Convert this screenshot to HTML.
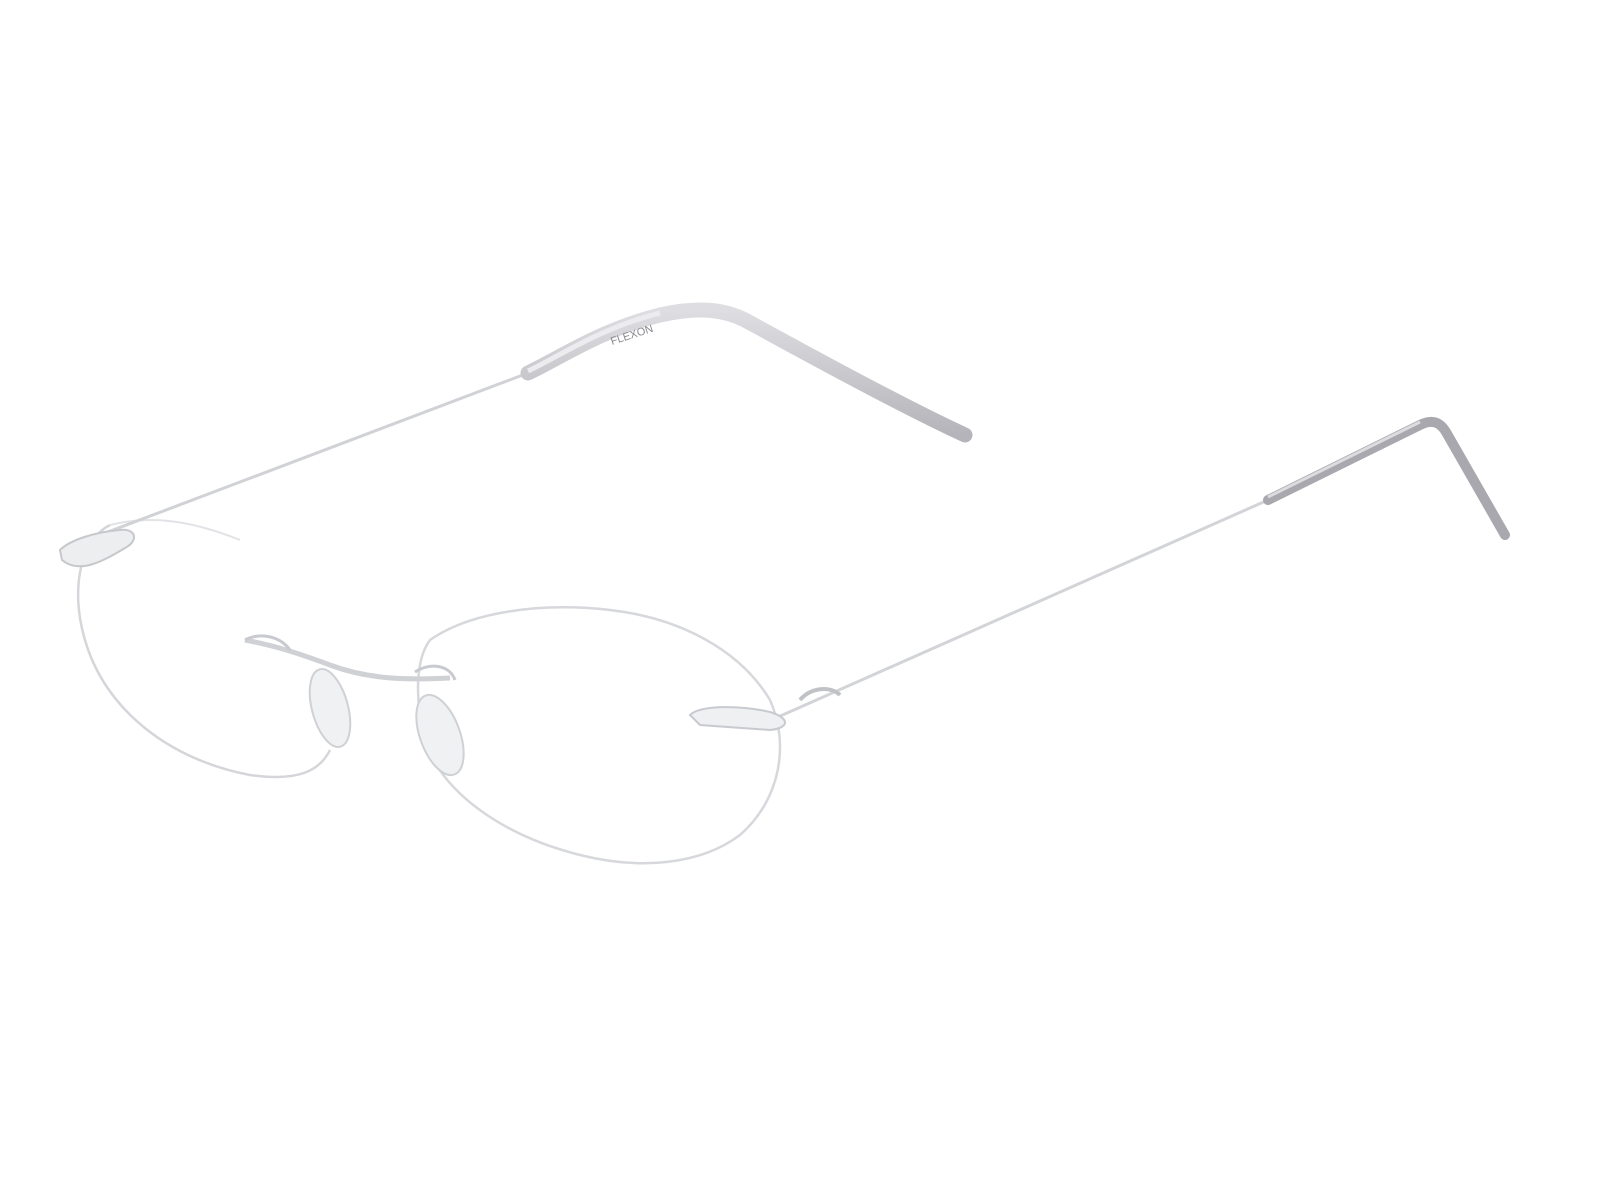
<!DOCTYPE html>
<html><head><meta charset="utf-8"><style>
html,body{margin:0;padding:0;background:#fff;width:1600px;height:1200px;overflow:hidden}
</style></head><body>
<svg width="1600" height="1200" viewBox="0 0 1600 1200" xmlns="http://www.w3.org/2000/svg">
<defs>
<linearGradient id="sl" x1="0" y1="0" x2="0" y2="1"><stop offset="0" stop-color="#dedee2"/><stop offset="1" stop-color="#b4b4ba"/></linearGradient>
</defs>
<!-- left lens -->
<path d="M110,525 C80,540 70,590 85,640 C105,710 170,760 250,775 C300,782 320,770 330,750" fill="none" stroke="#d4d6da" stroke-width="2.5"/>
<path d="M110,525 C150,515 190,520 240,540" fill="none" stroke="#e2e3e6" stroke-width="2"/>
<!-- right lens -->
<path d="M430,640 C470,612 540,602 610,610 C680,618 740,650 770,700 C790,745 780,800 740,835 C700,865 640,870 580,855 C500,835 440,790 425,740 C415,700 415,660 430,640 Z" fill="none" stroke="#d6d8dc" stroke-width="2.5"/>
<!-- left temple -->
<path d="M100,535 L528,373" stroke="#d0d2d6" stroke-width="3" fill="none"/>
<path d="M528,373 C560,358 600,330 660,315 C700,306 725,310 745,320 C800,350 900,405 965,435" stroke="url(#sl)" stroke-width="15" stroke-linecap="round" fill="none"/>
<path d="M528,371 C560,356 600,328 660,313" stroke="#ececee" stroke-width="5" fill="none"/>
<text x="612" y="345" font-family="Liberation Sans, sans-serif" font-size="11" fill="#8a8a90" transform="rotate(-18 612 345)">FLEXON</text>
<!-- right temple -->
<path d="M760,725 L1268,500" stroke="#d2d4d8" stroke-width="3" fill="none"/>
<path d="M1268,500 L1420,425 C1432,419 1440,422 1446,432 L1505,535" stroke="#a8a8ae" stroke-width="10" stroke-linecap="round" fill="none"/>
<path d="M1268,497 L1420,422" stroke="#dcdce0" stroke-width="3" fill="none"/>
<!-- left hinge -->
<path d="M60,550 C70,540 95,532 120,530 C135,528 140,540 125,548 C105,560 80,575 62,560 Z" fill="#eceef0" stroke="#c6c8cc" stroke-width="2"/>
<!-- bridge -->
<path d="M245,640 C270,645 290,650 330,665 C370,680 410,680 450,678" stroke="#cfd1d5" stroke-width="5" fill="none"/>
<path d="M245,640 C260,632 280,636 290,650" stroke="#c8cacf" stroke-width="3" fill="none"/>
<path d="M415,672 C430,662 450,665 455,680" stroke="#c8cacf" stroke-width="3" fill="none"/>
<!-- nose pads -->
<ellipse cx="330" cy="708" rx="18" ry="40" fill="#f0f1f3" stroke="#cfd1d5" stroke-width="2" transform="rotate(-15 330 708)"/>
<ellipse cx="440" cy="735" rx="20" ry="42" fill="#f0f1f3" stroke="#cfd1d5" stroke-width="2" transform="rotate(-20 440 735)"/>
<!-- right hinge -->
<path d="M690,715 C700,705 740,705 770,712 C790,718 790,728 770,730 L700,725 Z" fill="#eef0f2" stroke="#c8cacf" stroke-width="2"/>
<path d="M800,700 C810,688 830,685 840,695" stroke="#c0c2c6" stroke-width="4" fill="none"/>
</svg>
</body></html>
